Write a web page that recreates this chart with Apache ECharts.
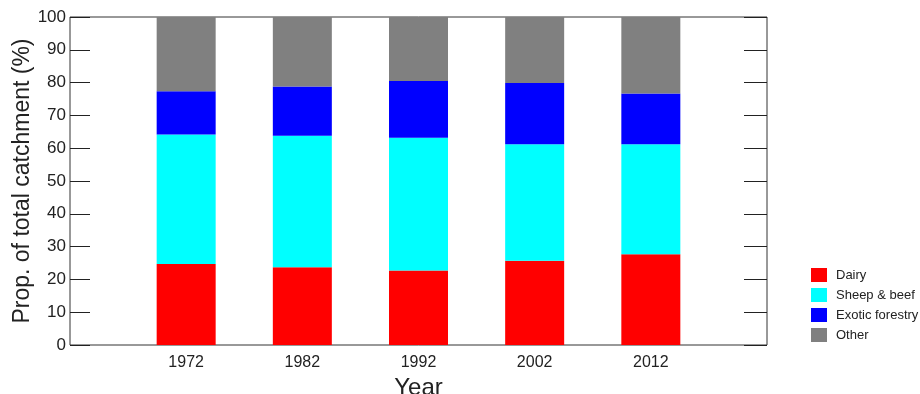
<!DOCTYPE html>
<html>
<head>
<meta charset="utf-8">
<script src="https://cdn.jsdelivr.net/npm/echarts@6/dist/echarts.min.js"></script>
<style>html,body{margin:0;padding:0;background:#fff}#c{width:920px;height:394px}</style>
</head>
<body>
<div id="c"></div>
<script>
const years = ['', '1972', '1982', '1992', '2002', '2012', ''];
const dairy = [null, 24.7, 23.7, 22.7, 25.7, 27.7, null];
const sheepBeef = [null, 39.5, 40.1, 40.5, 35.5, 33.5, null];
const exoticForestry = [null, 13.2, 15.0, 17.3, 18.7, 15.5, null];
const other = [null, 22.6, 21.2, 19.5, 20.1, 23.3, null];
const yTicks = [0, 10, 20, 30, 40, 50, 60, 70, 80, 90, 100];

const font = 'Liberation Sans, Arial, sans-serif';
const chart = echarts.init(document.getElementById('c'), null, {renderer: 'canvas'});
function bar(name, data, color) {
  return {name, type: 'bar', stack: 'a', data, barWidth: 59,
    itemStyle: {color}, emphasis: {disabled: true}, animation: false};
}
chart.setOption({
  animation: false,
  grid: {left: 70, right: 153, top: 17, bottom: 49, show: true, borderColor: '#333', borderWidth: 1,
    backgroundColor: 'transparent', containLabel: false, outerBoundsMode: 'none'},
  legend: {
    orient: 'vertical', left: 811, top: 268, padding: 0, itemWidth: 16, itemHeight: 14, itemGap: 6,
    icon: 'rect',
    textStyle: {fontFamily: font, fontSize: 13, color: '#222', padding: [0, 0, 0, 4]},
    data: ['Dairy', 'Sheep & beef', 'Exotic forestry', 'Other']
  },
  xAxis: {
    type: 'category', data: years, boundaryGap: false,
    axisLine: {show: false}, axisTick: {show: false},
    axisLabel: {interval: 0, fontFamily: font, fontSize: 16, color: '#222', margin: 10},
    name: 'Year', nameLocation: 'middle', nameGap: 31, nameMoveOverlap: false,
    nameTextStyle: {fontFamily: font, fontSize: 24, color: '#222'}
  },
  yAxis: [{
    type: 'value', min: yTicks[0], max: yTicks[yTicks.length - 1], interval: 10,
    axisLine: {show: false}, splitLine: {show: false},
    axisTick: {show: true, inside: true, length: 20, lineStyle: {color: '#222'}},
    axisLabel: {fontFamily: font, fontSize: 17, color: '#222', margin: 4},
    name: 'Prop. of total catchment (%)', nameLocation: 'middle', nameGap: 36, nameMoveOverlap: false,
    nameTextStyle: {fontFamily: font, fontSize: 23, color: '#222'}
  }, {
    type: 'value', min: yTicks[0], max: yTicks[yTicks.length - 1], interval: 10, position: 'right',
    axisLine: {show: false}, splitLine: {show: false},
    axisTick: {show: true, inside: true, length: 23, lineStyle: {color: '#222'}},
    axisLabel: {show: false}
  }],
  series: [
    bar('Dairy', dairy, '#ff0000'),
    bar('Sheep & beef', sheepBeef, '#00ffff'),
    bar('Exotic forestry', exoticForestry, '#0000ff'),
    bar('Other', other, '#808080')
  ]
});
</script>
</body>
</html>
